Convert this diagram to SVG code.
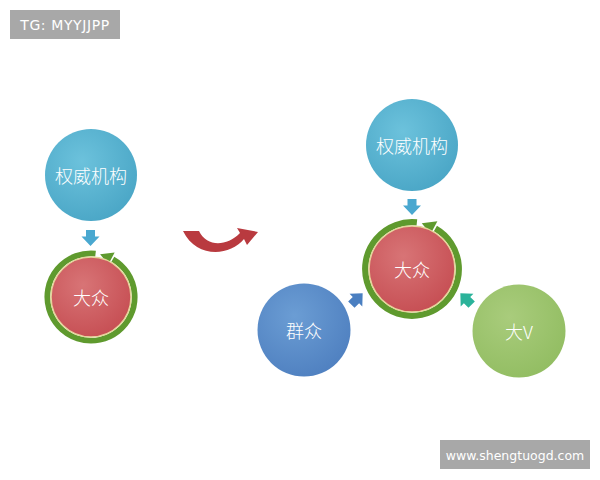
<svg xmlns="http://www.w3.org/2000/svg" xmlns:xlink="http://www.w3.org/1999/xlink" width="600" height="480" viewBox="0 0 600 480">
<style>
.lbl{font-family:"Noto Sans CJK SC","Noto Sans",sans-serif;font-size:18px;font-weight:300;fill:#ffffff;text-anchor:middle;dominant-baseline:central}
.wm{font-family:"DejaVu Sans","Liberation Sans",sans-serif;font-size:12.5px;fill:#ffffff;text-anchor:middle;dominant-baseline:central}
.ring{fill:none;stroke:#5f9a2e;stroke-width:6}
.core{stroke:#e6d49a;stroke-width:1.5}
</style>
<defs>
<radialGradient id="gBlue" cx="40%" cy="35%" r="70%"><stop offset="0" stop-color="#6cc2dc"/><stop offset="1" stop-color="#4aa6c6"/></radialGradient>
<radialGradient id="gRed" cx="40%" cy="35%" r="70%"><stop offset="0" stop-color="#d87476"/><stop offset="1" stop-color="#c64e53"/></radialGradient>
<radialGradient id="gNavy" cx="40%" cy="35%" r="70%"><stop offset="0" stop-color="#6b9dd4"/><stop offset="1" stop-color="#4f80c0"/></radialGradient>
<radialGradient id="gGreen" cx="40%" cy="35%" r="70%"><stop offset="0" stop-color="#a9cc7c"/><stop offset="1" stop-color="#92bd62"/></radialGradient>
<g id="cycle">
<path class="ring" d="M 4.70 -44.75 A 45 45 0 1 0 22.5 -38.97"/>
<polygon fill="#5f9a2e" points="17.84,-33.55 24.41,-45.91 9.36,-44.02"/>
</g>
<polygon id="down" points="-4.5,-8 4.5,-8 4.5,-1.5 9,-1.5 0,8 -9,-1.5 -4.5,-1.5"/>
</defs>
<rect width="600" height="480" fill="#ffffff"/>

<g id="tag">
<rect x="10" y="10" width="110" height="29" fill="#a8a8a8"/>
<text class="wm" x="65" y="25" style="font-size:14px;letter-spacing:0.6px">TG: MYYJJPP</text>
</g>

<g id="left-authority">
<circle cx="91" cy="175" r="46" fill="url(#gBlue)"/>
<text class="lbl" x="91" y="175">权威机构</text>
</g>
<g id="left-public">
<use xlink:href="#cycle" transform="translate(91,297) scale(0.97)"/>
<circle class="core" cx="91" cy="297" r="40" fill="url(#gRed)"/>
<text class="lbl" x="91" y="297">大众</text>
</g>

<g id="right-authority">
<circle cx="412" cy="145" r="46" fill="url(#gBlue)"/>
<text class="lbl" x="412" y="145">权威机构</text>
</g>
<g id="right-public">
<use xlink:href="#cycle" transform="translate(412,269) scale(1.04)"/>
<circle class="core" cx="412" cy="269" r="43" fill="url(#gRed)"/>
<text class="lbl" x="412" y="269">大众</text>
</g>
<g id="masses">
<circle cx="304" cy="330" r="46.5" fill="url(#gNavy)"/>
<text class="lbl" x="304" y="330">群众</text>
</g>
<g id="bigv">
<circle cx="519" cy="331" r="46.5" fill="url(#gGreen)"/>
<text class="lbl" x="519" y="331">大V</text>
</g>

<g id="connectors">
<use xlink:href="#down" fill="#4aa8d0" transform="translate(90.5,238)"/>
<use xlink:href="#down" fill="#4aa8d0" transform="translate(412,207)"/>
<use xlink:href="#down" fill="#4a7fc1" transform="translate(357,299) rotate(-135)"/>
<use xlink:href="#down" fill="#2bb39a" transform="translate(466,299) rotate(135)"/>
<path fill="#b93a3f" d="M183 231 L199 231 C207 247 226 247 240 233 L237 228 L258 232 L247 245 L244 239 C229 257 196 258 183 231 Z"/>
</g>

<g id="watermark">
<rect x="440" y="440" width="150" height="29" fill="#a8a8a8"/>
<text class="wm" x="515" y="455">www.shengtuogd.com</text>
</g>
</svg>
